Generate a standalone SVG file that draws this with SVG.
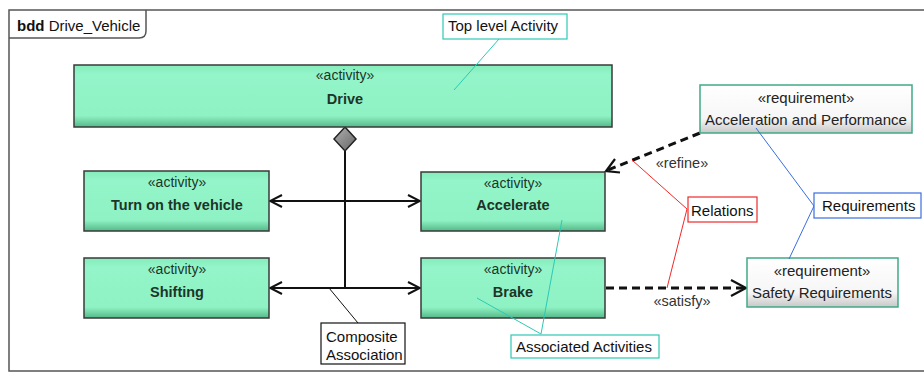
<svg xmlns="http://www.w3.org/2000/svg" width="924" height="374" viewBox="0 0 924 374">
<defs>
  <linearGradient id="actFill" x1="0" y1="0" x2="0" y2="1">
    <stop offset="0" stop-color="#84ecba"/>
    <stop offset="0.15" stop-color="#93f5c9"/>
    <stop offset="0.82" stop-color="#8ef2c4"/>
    <stop offset="1" stop-color="#55b888"/>
  </linearGradient>
  <linearGradient id="reqFill" x1="0" y1="0" x2="0" y2="1">
    <stop offset="0" stop-color="#ffffff"/>
    <stop offset="0.7" stop-color="#f6f6f6"/>
    <stop offset="1" stop-color="#c8c8c8"/>
  </linearGradient>
  <linearGradient id="diaFill" x1="0" y1="0" x2="1" y2="1">
    <stop offset="0" stop-color="#b0b0b0"/>
    <stop offset="1" stop-color="#666666"/>
  </linearGradient>
  <marker id="open" viewBox="0 0 14 14" refX="13" refY="7" markerWidth="14" markerHeight="14" markerUnits="userSpaceOnUse" orient="auto-start-reverse">
    <path d="M1,1 L13,7 L1,13" fill="none" stroke="#111" stroke-width="2"/>
  </marker>
  <style>
    text { font-family: "Liberation Sans", Arial, sans-serif; fill: #111; }
    .act rect { fill: url(#actFill); stroke: #3a3a3a; stroke-width: 1.5; }
    .st { font-size: 14px; text-anchor: middle; fill: #1c3528; }
    .nm { font-size: 14.5px; font-weight: bold; text-anchor: middle; fill: #1c3528; }
    .req rect { fill: url(#reqFill); stroke: #3faa86; stroke-width: 1.5; }
    .rq { font-size: 15px; text-anchor: middle; fill: #222; }
    .assoc { stroke: #111; stroke-width: 2; fill: none; }
    .dep { stroke: #111; stroke-width: 3; stroke-dasharray: 8 5; fill: none; }
    .head { stroke: #111; stroke-width: 2.2; fill: none; }
    .lbl { font-size: 14.5px; text-anchor: middle; fill: #333; }
    .note { font-size: 15px; }
    .teal { stroke: #2cc9b4; }
    .red { stroke: #ee2a2a; }
    .blue { stroke: #3a6de0; }
    .blk { stroke: #111; }
    .cl { fill: #fff; stroke-width: 1.2; }
    .ln { stroke-width: 1; fill: none; }
  </style>
</defs>

<g id="frame">
  <rect x="9" y="10" width="925" height="361" fill="#fff" stroke="#555" stroke-width="1.5"/>
  <path d="M9,38 L139,38 Q146,38 146,31 L146,10" fill="none" stroke="#555" stroke-width="1.5"/>
  <text x="17" y="31" font-size="15"><tspan font-weight="bold">bdd</tspan> Drive_Vehicle</text>
</g>

<g id="connectors">
  <line class="assoc" x1="345" y1="151" x2="345" y2="288"/>
  <line class="assoc" x1="345" y1="201" x2="270" y2="201" marker-end="url(#open)"/>
  <line class="assoc" x1="345" y1="201" x2="420" y2="201" marker-end="url(#open)"/>
  <line class="assoc" x1="345" y1="288" x2="270" y2="288" marker-end="url(#open)"/>
  <line class="assoc" x1="345" y1="288" x2="420" y2="288" marker-end="url(#open)"/>
  <path d="M345,127 L356,139 L345,151 L334,139 Z" fill="url(#diaFill)" stroke="#222" stroke-width="1.5"/>
  <line class="dep" x1="700" y1="133" x2="608" y2="170"/>
  <path class="head" d="M615,159 L606,171 L620,172.5"/>
  <text class="lbl" x="682" y="168">«refine»</text>
  <line class="dep" x1="606" y1="288" x2="744" y2="288"/>
  <path class="head" d="M731,280 L746,288 L731,296"/>
  <text class="lbl" x="682" y="306">«satisfy»</text>
</g>

<g id="drive" class="act">
  <rect x="74" y="65" width="538" height="62"/>
  <text class="st" x="345" y="80">«activity»</text>
  <text class="nm" x="345" y="104">Drive</text>
</g>
<g id="turn_on" class="act">
  <rect x="84" y="171" width="185" height="60"/>
  <text class="st" x="177" y="187">«activity»</text>
  <text class="nm" x="177" y="210">Turn on the vehicle</text>
</g>
<g id="shifting" class="act">
  <rect x="84" y="258" width="185" height="60"/>
  <text class="st" x="177" y="274">«activity»</text>
  <text class="nm" x="177" y="297">Shifting</text>
</g>
<g id="accelerate" class="act">
  <rect x="421" y="172" width="184" height="59"/>
  <text class="st" x="513" y="188">«activity»</text>
  <text class="nm" x="513" y="210">Accelerate</text>
</g>
<g id="brake" class="act">
  <rect x="421" y="258" width="184" height="60"/>
  <text class="st" x="513" y="274">«activity»</text>
  <text class="nm" x="513" y="297">Brake</text>
</g>

<g id="req_accel" class="req">
  <rect x="700" y="85" width="212" height="48"/>
  <text class="rq" x="806" y="103">«requirement»</text>
  <text class="rq" x="806" y="125">Acceleration and Performance</text>
</g>
<g id="req_safety" class="req">
  <rect x="747" y="258" width="151" height="49"/>
  <text class="rq" x="822" y="276">«requirement»</text>
  <text class="rq" x="822" y="298">Safety Requirements</text>
</g>

<g id="note_top">
  <line class="ln teal" x1="499" y1="39" x2="454" y2="90"/>
  <rect class="cl teal" x="443" y="14" width="124" height="25"/>
  <text class="note" x="448" y="31">Top level Activity</text>
</g>
<g id="note_relations">
  <path class="ln red" d="M632,160 L687,209 L667,288"/>
  <rect class="cl red" x="688" y="197" width="69" height="25"/>
  <text class="note" x="691" y="216">Relations</text>
</g>
<g id="note_requirements">
  <path class="ln blue" d="M756,128 L814,206 L789,259"/>
  <rect class="cl blue" x="814" y="193" width="107" height="25"/>
  <text class="note" x="822" y="211">Requirements</text>
</g>
<g id="note_composite">
  <line class="ln blk" x1="329" y1="288" x2="358" y2="323"/>
  <rect class="cl blk" x="321" y="323" width="84" height="41"/>
  <text class="note" x="326" y="342">Composite</text>
  <text class="note" x="326" y="360">Association</text>
</g>
<g id="note_associated">
  <path class="ln teal" d="M562,220 L541,334 L477,298"/>
  <rect class="cl teal" x="511" y="335" width="148" height="23"/>
  <text class="note" x="516" y="352">Associated Activities</text>
</g>
</svg>
